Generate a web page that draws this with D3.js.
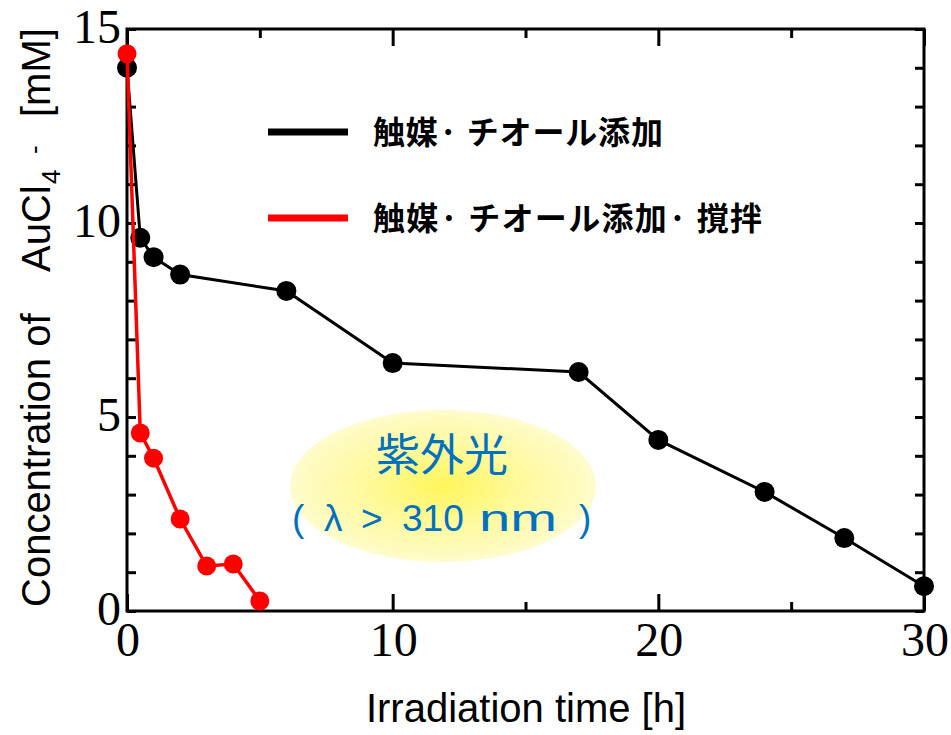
<!DOCTYPE html>
<html><head><meta charset="utf-8">
<script src="https://cdn.jsdelivr.net/npm/d3@7"></script>
<style>html,body{margin:0;padding:0;background:#fff;}svg{display:block;}</style>
</head><body>
<script>
// ---- data ----
const timeBlack = [0, 0.5, 1, 2, 6, 10, 17, 20, 24, 27, 30];
const concBlack = [14.0, 9.62, 9.12, 8.67, 8.25, 6.39, 6.16, 4.41, 3.07, 1.88, 0.64];
const timeRed = [0, 0.5, 1, 2, 3, 4, 5];
const concRed = [14.36, 4.59, 3.94, 2.37, 1.16, 1.21, 0.26];
const seriesNames = ["触媒· チオール添加", "触媒· チオール添加· 撹拌"];
const seriesColors = ["#000000", "#ff0000"];
const xTickLabels = [0, 10, 20, 30];
const xMinorTicks = [5, 15, 25];
const yTickLabels = [0, 5, 10, 15];
const yMinorTicks = d3.range(0, 16, 1);
const annotLine1 = "紫外光";
const annotLine2 = ["(", "λ", ">", "310", "nm", ")"];

const W = 951, H = 735;
const M = {left: 127, right: 924, top: 29, bottom: 611};
const x = d3.scaleLinear().domain([0, 30]).range([M.left, M.right]);
const y = d3.scaleLinear().domain([0, 15]).range([M.bottom, M.top]);
const SANS = "'Liberation Sans', Arial, sans-serif";

const svg = d3.select("body").append("svg").attr("width", W).attr("height", H);

// annotation ellipse
const defs = svg.append("defs");
const rg = defs.append("radialGradient").attr("id", "glow");
[[0, "#fff65a"], [0.5, "#fff99c"], [0.9, "#fefbc0"], [1, "#fefcd0"]].forEach(([o, c]) =>
  rg.append("stop").attr("offset", o).attr("stop-color", c));
svg.append("ellipse").attr("cx", 443).attr("cy", 486).attr("rx", 153).attr("ry", 76)
  .attr("fill", "url(#glow)");

svg.append("text").attr("x", 442).attr("y", 471).attr("text-anchor", "middle")
  .attr("font-family", "'Noto Sans CJK JP'").attr("font-size", 44).attr("fill", "#0070c0")
  .text(annotLine1);
const a2 = svg.append("text").attr("y", 531)
  .attr("font-family", SANS).attr("font-size", 37).attr("fill", "#0070c0");
const a2x = [292, 324, 361, 402, 479, 579];
annotLine2.forEach((s, i) => {
  const t = a2.append("tspan").attr("x", a2x[i]).text(s);
  if (s === "nm") t.attr("textLength", 78).attr("lengthAdjust", "spacingAndGlyphs");
});

// ticks (inward)
function tickAxis(axis, tr) {
  const g = svg.append("g").attr("transform", tr).call(axis);
  g.select(".domain").remove();
  g.selectAll(".tick line").attr("stroke", "#000").attr("stroke-width", 3);
  g.selectAll("text").remove();
}
tickAxis(d3.axisBottom(x).tickValues(xTickLabels).tickSize(-17), `translate(0,${M.bottom})`);
tickAxis(d3.axisBottom(x).tickValues(xMinorTicks).tickSize(-9), `translate(0,${M.bottom})`);
tickAxis(d3.axisTop(x).tickValues(xTickLabels).tickSize(-17), `translate(0,${M.top})`);
tickAxis(d3.axisTop(x).tickValues(xMinorTicks).tickSize(-9), `translate(0,${M.top})`);
tickAxis(d3.axisLeft(y).tickValues(yMinorTicks).tickSize(-9), `translate(${M.left},0)`);
tickAxis(d3.axisRight(y).tickValues(yMinorTicks).tickSize(-9), `translate(${M.right},0)`);

// frame
svg.append("rect").attr("x", M.left).attr("y", M.top)
  .attr("width", M.right - M.left).attr("height", M.bottom - M.top)
  .attr("fill", "none").attr("stroke", "#000").attr("stroke-width", 3);

// tick labels
svg.append("g").selectAll("text").data(yTickLabels).join("text")
  .attr("x", 121).attr("y", d => y(d) + 14).attr("text-anchor", "end")
  .attr("font-family", "'Liberation Serif', 'Times New Roman', serif").attr("font-size", 48)
  .text(d => d);
svg.append("g").selectAll("text").data(xTickLabels).join("text")
  .attr("x", d => x(d) + 1).attr("y", 656).attr("text-anchor", "middle")
  .attr("font-family", "'Liberation Serif', 'Times New Roman', serif").attr("font-size", 48)
  .text(d => d);

// axis titles
svg.append("text").attr("x", 526).attr("y", 722).attr("text-anchor", "middle")
  .attr("font-family", SANS).attr("font-size", 40)
  .text("Irradiation time [h]");
const yt = svg.append("text").attr("transform", "rotate(-90)").attr("y", 50)
  .attr("font-family", SANS).attr("font-size", 40);
yt.append("tspan").attr("x", -607).text("Concentration of");
yt.append("tspan").attr("x", -272).text("AuCl");
yt.append("tspan").attr("x", -184).attr("dy", 10).attr("font-size", 26).text("4");
yt.append("tspan").attr("x", -154).attr("dy", -17).attr("font-size", 26).text("-");
yt.append("tspan").attr("x", -117).attr("dy", 7).text("[mM]");

// series
const series = [
  {t: timeBlack, c: concBlack, color: seriesColors[0], w: 3, r: 10},
  {t: timeRed, c: concRed, color: seriesColors[1], w: 3.5, r: 9.5}
];
const line = d3.line().x(d => x(d[0])).y(d => y(d[1]));
series.forEach(s => {
  const pts = s.t.map((t, i) => [t, s.c[i]]);
  svg.append("path").datum(pts).attr("d", line).attr("fill", "none")
    .attr("stroke", s.color).attr("stroke-width", s.w);
  svg.append("g").selectAll("circle").data(pts).join("circle")
    .attr("cx", d => x(d[0])).attr("cy", d => y(d[1])).attr("r", s.r).attr("fill", s.color);
});

// legend
const legY = [132, 218];
const legLen = [290, 389];
seriesNames.forEach((n, i) => {
  svg.append("line").attr("x1", 268).attr("x2", 348).attr("y1", legY[i]).attr("y2", legY[i])
    .attr("stroke", seriesColors[i]).attr("stroke-width", 7);
  svg.append("text").attr("x", 373).attr("y", legY[i] + 12)
    .attr("font-family", "'Noto Sans CJK JP'").attr("font-weight", 700).attr("font-size", 32)
    .attr("textLength", legLen[i]).attr("lengthAdjust", "spacing")
    .text(n);
});
</script>
</body></html>
